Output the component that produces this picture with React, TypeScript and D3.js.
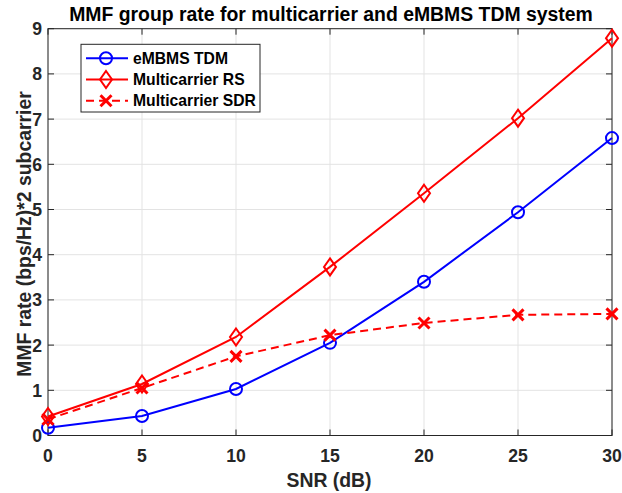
import React from "react";
import * as d3 from "d3";

const snr = [0, 5, 10, 15, 20, 25, 30];
const tdm = [0.17, 0.43, 1.03, 2.05, 3.4, 4.94, 6.58];
const rs = [0.42, 1.14, 2.18, 3.73, 5.36, 7.02, 8.79];
const sdr = [0.36, 1.05, 1.75, 2.22, 2.49, 2.67, 2.69];
const xTicks = [0, 5, 10, 15, 20, 25, 30];
const yTicks = [0, 1, 2, 3, 4, 5, 6, 7, 8, 9];
const seriesNames = ["eMBMS TDM", "Multicarrier RS", "Multicarrier SDR"];

const W = 622, H = 493;
const L = 48, R = 612, T = 28.7, B = 435.5;
const font = "'Liberation Sans', Arial, Helvetica, sans-serif";

export default function App() {
  const x = d3.scaleLinear().domain([0, 30]).range([L, R]);
  const y = d3.scaleLinear().domain([0, 9]).range([B, T]);
  const line = d3.line<number>().x((_, i) => x(snr[i])).y((d) => y(d));
  const axisCol = "#262626";

  const circle = (cx: number, cy: number, col: string, k: string) => (
    <circle key={k} cx={cx} cy={cy} r={6} fill="none" stroke={col} strokeWidth={2} />
  );
  const diamond = (cx: number, cy: number, col: string, k: string) => (
    <path key={k} d={`M${cx},${cy - 8.5}L${cx + 6},${cy}L${cx},${cy + 8.5}L${cx - 6},${cy}Z`} fill="none" stroke={col} strokeWidth={2} />
  );
  const cross = (cx: number, cy: number, col: string, k: string) => (
    <path key={k} d={`M${cx - 5.5},${cy - 5.5}L${cx + 5.5},${cy + 5.5}M${cx - 5.5},${cy + 5.5}L${cx + 5.5},${cy - 5.5}`} fill="none" stroke={col} strokeWidth={3} />
  );

  const series = [
    { data: tdm, col: "#0000ff", dash: undefined as string | undefined, mk: circle },
    { data: rs, col: "#ff0000", dash: undefined, mk: diamond },
    { data: sdr, col: "#ff0000", dash: "8,5", mk: cross },
  ];

  const lgX = 81, lgY = 44.3, lgW = 179, lgH = 67.7;
  return (
    <svg width={W} height={H} style={{ position: "absolute", left: 0, top: 0 }} fontFamily={font}>
      <rect x={0} y={0} width={W} height={H} fill="#fff" />
      <rect x={L} y={T} width={R - L} height={B - T} fill="#fff" />
      {xTicks.map((t) => (
        <line key={"gx" + t} x1={x(t)} x2={x(t)} y1={T} y2={B} stroke="#e3e3e3" strokeWidth={1} />
      ))}
      {yTicks.map((t) => (
        <line key={"gy" + t} x1={L} x2={R} y1={y(t)} y2={y(t)} stroke="#e3e3e3" strokeWidth={1} />
      ))}
      {xTicks.map((t) => (
        <g key={"tx" + t}>
          <line x1={x(t)} x2={x(t)} y1={B} y2={B - 6} stroke={axisCol} />
          <line x1={x(t)} x2={x(t)} y1={T} y2={T + 6} stroke={axisCol} />
          <text x={x(t)} y={461.5} textAnchor="middle" fontSize={17.6} fontWeight="bold" fill={axisCol}>{t}</text>
        </g>
      ))}
      {yTicks.map((t) => (
        <g key={"ty" + t}>
          <line x1={L} x2={L + 6} y1={y(t)} y2={y(t)} stroke={axisCol} />
          <line x1={R} x2={R - 6} y1={y(t)} y2={y(t)} stroke={axisCol} />
          <text x={42} y={y(t) + 6.5} textAnchor="end" fontSize={17.6} fontWeight="bold" fill={axisCol}>{t}</text>
        </g>
      ))}
      <rect x={L} y={T} width={R - L} height={B - T} fill="none" stroke={axisCol} strokeWidth={1} />
      {series.map((s, si) => (
        <g key={"s" + si}>
          <path d={line(s.data) || ""} fill="none" stroke={s.col} strokeWidth={2} strokeDasharray={s.dash} />
          {s.data.map((v, i) => s.mk(x(snr[i]), y(v), s.col, `m${si}-${i}`))}
        </g>
      ))}
      <text x={331} y={20.5} textAnchor="middle" fontSize={19.4} fontWeight="bold" fill="#000">
        MMF group rate for multicarrier and eMBMS TDM system
      </text>
      <text x={329} y={487} textAnchor="middle" fontSize={19.4} fontWeight="bold" fill={axisCol}>SNR (dB)</text>
      <text transform={`translate(31,234) rotate(-90)`} textAnchor="middle" fontSize={19.4} fontWeight="bold" fill={axisCol}>
        MMF rate (bps/Hz)*2 subcarrier
      </text>
      <rect x={lgX} y={lgY} width={lgW} height={lgH} fill="#fff" stroke={axisCol} strokeWidth={1} />
      {series.map((s, i) => {
        const ly = lgY + 14 + i * 21.2;
        return (
          <g key={"lg" + i}>
            <line x1={lgX + 5} x2={lgX + 47} y1={ly} y2={ly} stroke={s.col} strokeWidth={2} strokeDasharray={s.dash} />
            {s.mk(lgX + 25, ly, s.col, "lm" + i)}
            <text x={lgX + 52} y={ly + 5.5} fontSize={15.7} fontWeight="bold" fill="#000">{seriesNames[i]}</text>
          </g>
        );
      })}
    </svg>
  );
}
